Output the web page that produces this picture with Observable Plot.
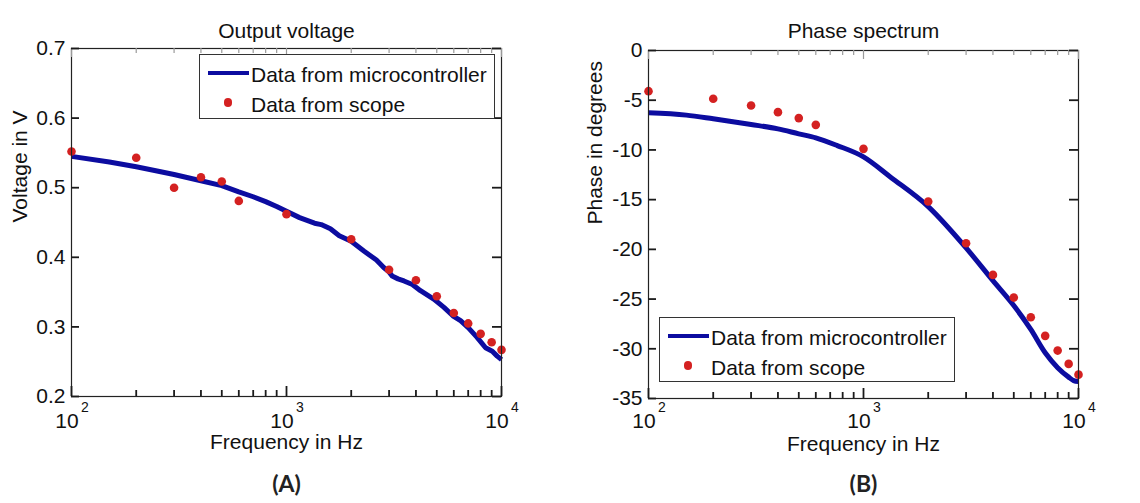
<!DOCTYPE html>
<html>
<head>
<meta charset="utf-8">
<script src="https://cdn.jsdelivr.net/npm/d3@7"></script>
<script src="https://cdn.jsdelivr.net/npm/@observablehq/plot@0.6"></script>
<style>
  body { margin: 0; background: #fff; }
  #wrap { display: flex; width: 1140px; height: 503px; }
  .panel { position: relative; width: 570px; height: 503px; }
  .panel svg { position: absolute; left: 0; top: 0; }
  .legend { position: absolute; box-sizing: border-box; width: 296px; height: 65px; border: 1px solid #333; background: #fff;
            font: 21px "Liberation Sans", Arial, sans-serif; color: #111; }
  .legend .ln { position: absolute; left: 8px; width: 41px; height: 4px; }
  .legend .dt { position: absolute; width: 8.6px; height: 8.6px; border-radius: 50%; }
  .legend .tx { position: absolute; left: 51px; line-height: 21px; white-space: nowrap; }
</style>
</head>
<body>
<div id="wrap">
  <div class="panel" id="pA"></div>
  <div class="panel" id="pB"></div>
</div>
<script>
// ---------- data ----------
const decadeTicks = [100, 1000, 10000];
const minorTicks = [200, 300, 400, 500, 600, 700, 800, 900, 2000, 3000, 4000, 5000, 6000, 7000, 8000, 9000];

// Panel A: output voltage
const voltTicks = [0.2, 0.3, 0.4, 0.5, 0.6, 0.7];
const scopeFreqA = [100, 200, 300, 400, 500, 600, 1000, 2000, 3000, 4000, 5000, 6000, 7000, 8000, 9000, 10000];
const scopeVoltage = [0.552, 0.543, 0.500, 0.515, 0.509, 0.481, 0.462, 0.426, 0.382, 0.367, 0.344, 0.320, 0.305, 0.290, 0.278, 0.267];
const mcuFreqA = [100, 150, 200, 250, 300, 400, 500, 600, 700, 800, 900, 1000, 1150, 1350, 1450, 1600, 1760, 2000, 2290, 2620, 2840, 3000, 3100, 3300, 3520, 3850, 4200, 4840, 5400, 5940, 6450, 7000, 7700, 8430, 9060, 9550, 10000];
const mcuVoltage = [0.545, 0.537, 0.530, 0.524, 0.519, 0.510, 0.503, 0.494, 0.487, 0.480, 0.473, 0.466, 0.457, 0.449, 0.447, 0.441, 0.431, 0.423, 0.409, 0.396, 0.385, 0.379, 0.373, 0.369, 0.366, 0.361, 0.352, 0.340, 0.328, 0.316, 0.309, 0.299, 0.285, 0.270, 0.265, 0.258, 0.253];

// Panel B: phase spectrum
const phaseTicks = [0, -5, -10, -15, -20, -25, -30, -35];
const scopeFreqB = [100, 200, 300, 400, 500, 600, 1000, 2000, 3000, 4000, 5000, 6000, 7000, 8000, 9000, 10000];
const scopePhase = [-4.09, -4.86, -5.53, -6.2, -6.8, -7.48, -9.89, -15.19, -19.38, -22.57, -24.85, -26.83, -28.70, -30.18, -31.52, -32.6];
const mcuFreqB = [100, 150, 200, 300, 400, 500, 600, 755, 1000, 1337, 2000, 3000, 4000, 5000, 6000, 7000, 8000, 9000, 9500, 10000];
const mcuPhase = [-6.27, -6.5, -6.87, -7.44, -7.88, -8.38, -8.78, -9.56, -10.7, -12.74, -15.7, -19.85, -23.15, -25.65, -28.05, -30.4, -31.9, -32.85, -33.2, -33.3];

const seriesNames = ["Data from microcontroller", "Data from scope"];
const BLUE = "#0c0ca0";
const RED = "#d42121";
const FONT = '"Liberation Sans", Arial, Helvetica, sans-serif';

function makePanel(o) {
  const W = 570, H = 503;
  const fw = W - o.ml - o.mr, fh = H - o.mt - o.mb; // frame size in px
  const mcu = o.mFreq.map((f, i) => ({f, v: o.mVal[i]}));
  const scope = o.sFreq.map((f, i) => ({f, v: o.sVal[i]}));
  const ts = {stroke: "#1a1a1a", strokeWidth: 1.8};
  const tsTop = {stroke: "#9a9a9a", strokeWidth: 1.2};
  return Plot.plot({
    width: W, height: H,
    marginLeft: o.ml, marginRight: o.mr, marginTop: o.mt, marginBottom: o.mb,
    x: {type: "log", domain: [100, 10000]},
    y: {domain: o.yDomain},
    style: {fontFamily: FONT, fontSize: "21px", color: "#111", background: "white", overflow: "visible"},
    marks: [
      Plot.line(mcu, {x: "f", y: "v", stroke: BLUE, strokeWidth: 5, strokeLinejoin: "round", strokeLinecap: "butt", curve: o.curve}),
      Plot.dot(scope, {x: "f", y: "v", fill: RED, r: 4.3, stroke: "none"}),
      Plot.frame({stroke: "#222", strokeWidth: 1.2}),
      // inward ticks: full-frame ticks trimmed by pixel insets
      Plot.tickX(decadeTicks, {x: d => d, insetTop: fh - 10, ...ts}),
      Plot.tickX(minorTicks, {x: d => d, insetTop: fh - 6, ...ts}),
      Plot.tickX(decadeTicks, {x: d => d, insetBottom: fh - 9, ...tsTop}),
      Plot.tickX(minorTicks, {x: d => d, insetBottom: fh - 5, ...tsTop}),
      Plot.tickY(o.yTicks, {y: d => d, insetRight: fw - 8, ...ts}),
      Plot.tickY(o.yTicks, {y: d => d, insetLeft: fw - 9, ...ts}),
      // tick labels
      Plot.axisY({anchor: "left", ticks: o.yTicks, tickSize: 0, tickPadding: 6, tickFormat: d => String(d), label: null}),
      Plot.axisX({anchor: "bottom", ticks: decadeTicks, tickSize: 0, tickPadding: o.tp, tickFormat: () => "10", dx: -4.5, label: null}),
      Plot.axisX({anchor: "bottom", ticks: decadeTicks, tickSize: 0, tickPadding: o.tp - 11, tickFormat: d => String(Math.round(Math.log10(d))), dx: 13.5, fontSize: 14, label: null}),
      // axis titles, title, caption
      Plot.text([o.xLabel], {frameAnchor: "bottom", dy: 52, text: d => d}),
      Plot.text([o.yLabel], {frameAnchor: "left", rotate: -90, dx: o.yLabelDx, text: d => d}),
      Plot.text([o.title], {frameAnchor: "top", dy: o.titleDy, text: d => d}),
      Plot.text([o.caption], {frameAnchor: "bottom", dy: o.capDy, text: d => d, fontFamily: "Lato, 'Open Sans', sans-serif", fontWeight: "bold", fontSize: 23, fill: "#222"})
    ]
  });
}

function makeLegend(left, top) {
  const d = document.createElement("div");
  d.className = "legend";
  d.style.left = left + "px";
  d.style.top = top + "px";
  d.innerHTML =
    `<div class="ln" style="top:16px;background:${BLUE}"></div>` +
    `<div class="tx" style="top:9px">${seriesNames[0]}</div>` +
    `<div class="dt" style="left:23.7px;top:43.4px;background:${RED}"></div>` +
    `<div class="tx" style="top:39px">${seriesNames[1]}</div>`;
  return d;
}

const pA = document.getElementById("pA");
pA.appendChild(makePanel({
  mFreq: mcuFreqA, mVal: mcuVoltage, sFreq: scopeFreqA, sVal: scopeVoltage,
  yDomain: [0.2, 0.7], yTicks: voltTicks, curve: "linear",
  ml: 71, mr: 69, mt: 48, mb: 107, tp: 17,
  xLabel: "Frequency in Hz", yLabel: "Voltage in V", yLabelDx: -51.5,
  title: "Output voltage", titleDy: -25.4, caption: "(A)", capDy: 95
}));
pA.appendChild(makeLegend(199, 54));

const pB = document.getElementById("pB");
pB.appendChild(makePanel({
  mFreq: mcuFreqB, mVal: mcuPhase, sFreq: scopeFreqB, sVal: scopePhase,
  yDomain: [-35, 0], yTicks: phaseTicks, curve: "monotone-x",
  ml: 78, mr: 62, mt: 50, mb: 105, tp: 15,
  xLabel: "Frequency in Hz", yLabel: "Phase in degrees", yLabelDx: -53,
  title: "Phase spectrum", titleDy: -27.7, caption: "(B)", capDy: 93
}));
pB.appendChild(makeLegend(89, 317));
</script>
</body>
</html>
